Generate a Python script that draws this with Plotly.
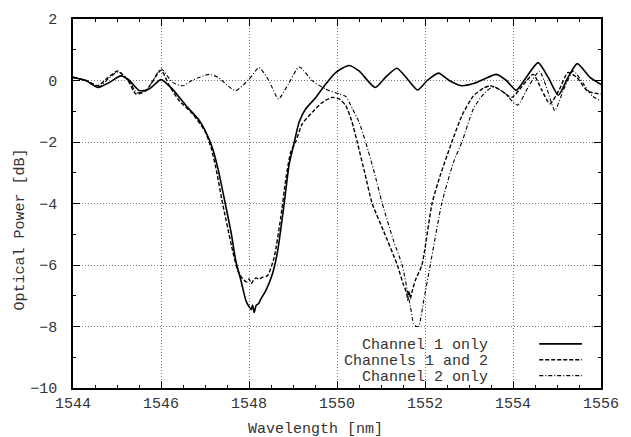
import plotly.graph_objects as go

# ---------------- data ----------------
ch1_x = [1544.0, 1544.3, 1544.57, 1544.83, 1545.09, 1545.28, 1545.51, 1545.73, 1546.0, 1546.26,
         1546.57, 1546.87, 1547.02, 1547.17, 1547.3, 1547.46, 1547.6, 1547.7, 1547.82, 1547.93,
         1548.0, 1548.05, 1548.08, 1548.12, 1548.16, 1548.22, 1548.27, 1548.38, 1548.53, 1548.65,
         1548.8, 1548.91, 1549.03, 1549.14, 1549.29, 1549.52, 1549.74, 1549.97, 1550.27, 1550.5,
         1550.87, 1551.1, 1551.36, 1551.6, 1551.83, 1552.05, 1552.31, 1552.55, 1552.83, 1553.1,
         1553.35, 1553.62, 1553.85, 1554.07, 1554.3, 1554.57, 1554.8, 1555.03, 1555.25, 1555.46,
         1555.75, 1556.0]
ch1_y = [0.10, -0.01, -0.23, -0.06, 0.15, 0.0, -0.33, -0.28, 0.03, -0.28,
         -0.82, -1.30, -1.68, -2.2, -2.9, -4.0, -5.0, -5.87, -6.52, -7.16,
         -7.35, -7.45, -7.3, -7.55, -7.32, -7.25, -7.1, -6.84, -6.3, -5.55,
         -4.0, -2.75, -2.0, -1.35, -0.92, -0.55, -0.12, 0.26, 0.49, 0.31,
         -0.23, 0.1, 0.40, 0.05, -0.31, 0.0, 0.24, 0.0, -0.17, -0.1,
         0.05, 0.2, 0.0, -0.32, 0.1, 0.58, 0.1, -0.48, 0.1, 0.55,
         0.1, -0.13]

both_x = [1544.0, 1544.3, 1544.57, 1544.75, 1545.02, 1545.25, 1545.43, 1545.66, 1546.0, 1546.19,
          1546.41, 1546.72, 1547.01, 1547.14, 1547.25, 1547.4, 1547.63, 1547.75, 1547.86, 1547.95,
          1548.0, 1548.05, 1548.1, 1548.16, 1548.23, 1548.3, 1548.42, 1548.57, 1548.72, 1548.84,
          1548.95, 1549.06, 1549.21, 1549.44, 1549.67, 1549.89, 1550.05, 1550.2, 1550.33, 1550.46,
          1550.63, 1550.8, 1551.06, 1551.37, 1551.5, 1551.58, 1551.61, 1551.64, 1551.67, 1551.7,
          1551.78, 1551.93, 1552.16, 1552.35, 1552.61, 1552.84, 1553.1, 1553.33, 1553.48, 1553.7,
          1553.97, 1554.2, 1554.46, 1554.65, 1554.84, 1555.05, 1555.25, 1555.45, 1555.7, 1556.0]
both_y = [0.10, 0.0, -0.17, 0.04, 0.31, 0.0, -0.44, -0.33, 0.33, -0.17,
          -0.65, -1.09, -1.68, -2.2, -2.86, -4.0, -5.55, -6.2, -6.46, -6.55,
          -6.45, -6.6, -6.5, -6.42, -6.46, -6.4, -6.35, -5.76, -4.47, -3.18,
          -2.32, -2.0, -1.41, -1.03, -0.71, -0.55, -0.6, -0.82, -1.3, -2.0,
          -3.0, -4.0, -4.9, -6.0, -6.6, -6.9, -7.15, -6.85, -7.1, -6.9,
          -6.5, -6.0, -4.0, -3.07, -2.0, -1.14, -0.5, -0.25, -0.17, -0.3,
          -0.55, -0.2, 0.2, -0.3, -0.76, -0.3, 0.26, 0.1, -0.35, -0.44]

ch2_x = [1544.0, 1544.3, 1544.6, 1544.8, 1545.02, 1545.25, 1545.45, 1545.68, 1546.0, 1546.26,
         1546.5, 1546.7, 1546.87, 1547.1, 1547.3, 1547.5, 1547.7, 1548.0, 1548.23, 1548.45,
         1548.67, 1548.9, 1549.14, 1549.44, 1549.74, 1550.05, 1550.2, 1550.35, 1550.5, 1550.65,
         1550.85, 1551.03, 1551.29, 1551.48, 1551.67, 1551.74, 1551.8, 1551.86, 1551.97, 1552.12,
         1552.38, 1552.65, 1552.84, 1553.1, 1553.33, 1553.55, 1553.8, 1554.1, 1554.35, 1554.6,
         1554.78, 1554.95, 1555.15, 1555.37, 1555.6, 1555.8, 1556.0]
ch2_y = [0.12, 0.0, -0.2, 0.05, 0.28, 0.05, -0.4, -0.3, 0.38, -0.06,
         -0.17, 0.0, 0.1, 0.2, 0.1, -0.15, -0.33, 0.04, 0.42, 0.0,
         -0.6, -0.1, 0.44, -0.01, -0.28, -0.44, -0.52, -0.92, -1.35, -2.0,
         -3.0, -4.0, -5.23, -6.0, -7.37, -7.91, -8.0, -7.97, -7.16, -6.0,
         -4.0, -2.65, -2.0, -0.92, -0.44, -0.2, -0.4, -0.8, -0.2, 0.3,
         -0.3, -0.98, -0.3, 0.31, -0.1, -0.5, -0.66]

series_names = ["Channel 1 only", "Channels 1 and 2", "Channel 2 only"]
x_ticks = [1544, 1546, 1548, 1550, 1552, 1554, 1556]
y_ticks = [-10, -8, -6, -4, -2, 0, 2]

# ---------------- styles ----------------
FONT = "Liberation Mono, Courier New, monospace"
TXT = "#333333"
dashes = ["solid", "4px,2px", "4px,2px,1px,2px"]
widths = [1.6, 1.4, 1.1]

fig = go.Figure()
for xs, ys, d, w in zip([ch1_x, both_x, ch2_x], [ch1_y, both_y, ch2_y], dashes, widths):
    fig.add_trace(go.Scatter(x=xs, y=ys, mode="lines",
                             line=dict(color="black", width=w, dash=d, shape="spline", smoothing=0.6),
                             showlegend=False, hoverinfo="skip"))

axis_common = dict(showline=True, linecolor="black", linewidth=1.5, mirror="ticks",
                   ticks="inside", ticklen=7, tickwidth=1, tickcolor="black",
                   showgrid=True, gridcolor="#777777", griddash="1px,2px", gridwidth=1,
                   zeroline=False, tickfont=dict(family=FONT, size=15, color=TXT))

fig.update_xaxes(range=[1544, 1556], tickvals=x_ticks,
                 minor=dict(dtick=0.5, ticks="inside", ticklen=3.5, tickcolor="black", showgrid=False),
                 **axis_common)
fig.update_yaxes(range=[-10, 2], tickvals=y_ticks, ticklabelstandoff=11,
                 minor=dict(dtick=1, ticks="inside", ticklen=3.5, tickcolor="black", showgrid=False),
                 **axis_common)

# opaque key box
fig.add_shape(type="rect", xref="paper", yref="paper", x0=0.505, x1=0.997, y0=0.004, y1=0.135,
              fillcolor="white", line=dict(width=0), layer="between")

# key: right-aligned text followed by line samples
key_y = [0.1156, 0.0726, 0.0296]
for name, ky, d, w in zip(series_names, key_y, dashes, widths):
    fig.add_annotation(x=0.7906, y=ky, xref="paper", yref="paper", text=name, showarrow=False,
                       xanchor="right", yanchor="middle", font=dict(family=FONT, size=15, color=TXT))
    fig.add_shape(type="line", xref="paper", yref="paper", x0=0.883, x1=0.964, y0=ky + 0.004, y1=ky + 0.004,
                  line=dict(color="black", width=w, dash=d))

fig.add_annotation(x=-0.1, y=0.43, xref="paper", yref="paper", text="Optical Power [dB]",
                   textangle=-90, showarrow=False, xanchor="center", yanchor="middle",
                   font=dict(family=FONT, size=15, color=TXT))
fig.add_annotation(x=0.4585, y=-0.113, xref="paper", yref="paper", text="Wavelength [nm]",
                   showarrow=False, xanchor="center", yanchor="middle",
                   font=dict(family=FONT, size=15, color=TXT))

fig.update_layout(width=631, height=437, margin=dict(l=73, r=28, t=16, b=49),
                  paper_bgcolor="white", plot_bgcolor="white", showlegend=False)

fig.write_html("out.html", config={"displayModeBar": False},
               post_script="document.body.style.margin='0';document.body.style.padding='0';")
